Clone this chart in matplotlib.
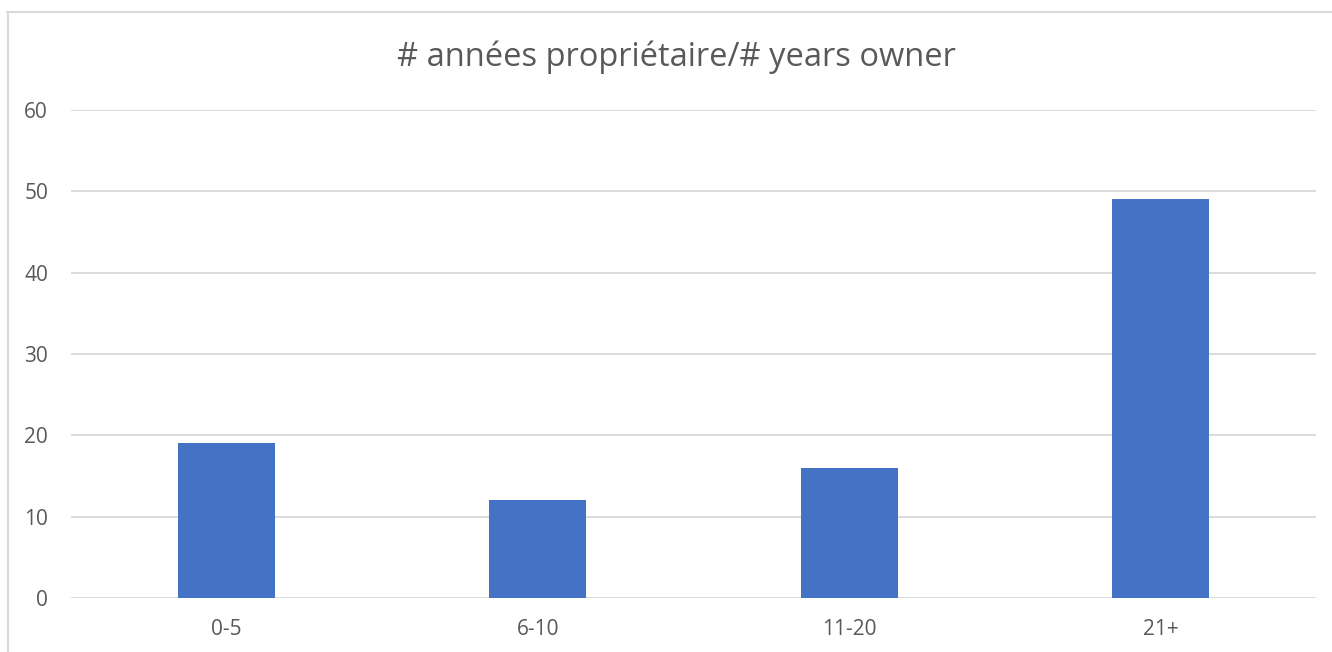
import matplotlib
matplotlib.use("Agg")
import matplotlib.pyplot as plt
from matplotlib.lines import Line2D

categories = ["0-5", "6-10", "11-20", "21+"]
values = [19, 12, 16, 49]
yticks = [0, 10, 20, 30, 40, 50, 60]
title = "# années propriétaire/# years owner"

plt.rcParams['font.family'] = ['Open Sans', 'DejaVu Sans']

W, H = 1332, 652
fig = plt.figure(figsize=(W / 100, H / 100), dpi=100)
ax = fig.add_axes([71 / W, 1 - 598 / H, (1316 - 71) / W, (598 - 110) / H])

x = list(range(len(categories)))
ax.bar(x, values, width=0.312, color="#4472C4", zorder=3)
ax.set_xlim(-0.5, len(categories) - 0.5)
ax.set_ylim(0, 60)
ax.set_yticks(yticks)
ax.set_xticks(x)
ax.set_xticklabels(categories)
for s in ax.spines.values():
    s.set_visible(False)
ax.grid(axis="y", color="#d9d9d9", linewidth=1.3, zorder=0)
ax.tick_params(axis="both", length=0, labelsize=15, labelcolor="#595959")
ax.tick_params(axis="y", pad=16.5)
ax.tick_params(axis="x", pad=15)
for lab in ax.get_yticklabels():
    lab.set_horizontalalignment("right")

fig.text(676 / W, 1 - 57 / H, title, ha="center", va="center",
         fontsize=23.5, color="#595959")

# chart border (cropped)
fig.add_artist(Line2D([7.5 / W, 7.5 / W], [0, 1 - 12 / H], color="#d9d9d9", linewidth=1.5, transform=fig.transFigure))
fig.add_artist(Line2D([7 / W, 1], [1 - 12 / H, 1 - 12 / H], color="#d9d9d9", linewidth=1.5, transform=fig.transFigure))

fig.savefig("out.png", dpi=100, facecolor="white")
